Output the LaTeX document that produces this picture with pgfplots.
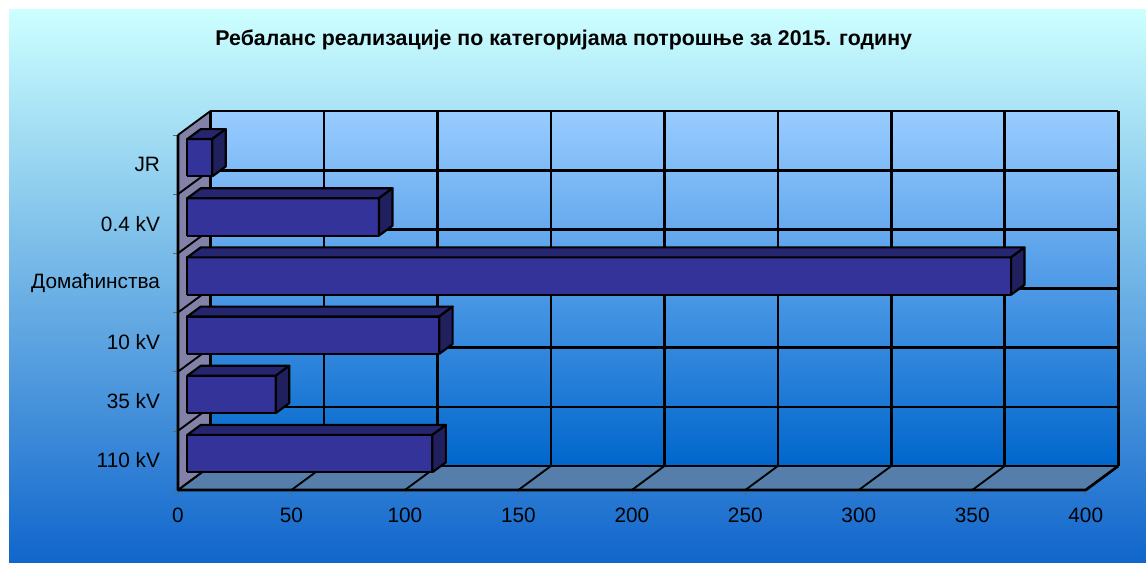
\documentclass[border=0pt]{standalone}
\usepackage{pgfplots}
\pgfplotsset{compat=1.18}
\usepackage{pgfplotstable}
\usepackage{fontspec}
\setmainfont{Liberation Sans}
\definecolor{barfront}{HTML}{333399}
\definecolor{bartop}{HTML}{262670}
\definecolor{barside}{HTML}{20205E}
\definecolor{floorc}{HTML}{557EAB}
\definecolor{wallc}{HTML}{8282A8}
\definecolor{bgtop}{HTML}{CCFFFF}
\definecolor{bgbot}{HTML}{1166CC}
\definecolor{walltop}{HTML}{99CCFF}
\definecolor{wallbot}{HTML}{0066CC}

% category index (0 = bottom) and value
\pgfplotstableread{
i v
0 108
1 39
2 111
3 363
4 84.5
5 11
}\datatable

\begin{document}
\begin{tikzpicture}
\useasboundingbox (0,0) rectangle (859.5pt,421.5pt);
\shade[top color=bgtop, bottom color=bgbot] (6.75pt,0) rectangle (859.5pt,414pt);
\node[font=\bfseries\fontsize{16}{18}\selectfont, anchor=base] at (422.8pt,387.75pt) {Ребаланс реализације по категоријама потрошње за 2015. годину};
\begin{axis}[
  at={(133.5pt,54pt)}, anchor=south west,
  scale only axis, width=680.8pt, height=266.25pt,
  xmin=0, xmax=400, ymin=0, ymax=6,
  clip=false,
  axis line style={draw=none},
  xtick pos=left, ytick pos=left,
  xtick={0,50,...,400},
  ytick={0,1,...,6}, yticklabels={},
  extra y ticks={0.5,1.5,2.5,3.5,4.5,5.5},
  extra y tick labels={110 kV,35 kV,10 kV,Домаћинства,0.4 kV,JR},
  extra y tick style={major tick length=0pt},
  tick align=outside,
  major tick length=3.75pt,
  tick style={draw=black!60, line width=0.5pt},
  ticklabel style={font=\fontsize{15.6}{18}\selectfont},
  xticklabel style={yshift=-6pt},
  yticklabel style={xshift=-10pt},
  /pgf/number format/assume math mode=true,
]
% back wall
\shade[top color=walltop, bottom color=wallbot] (axis cs:14.32,0.4056) rectangle (axis cs:414.32,6.4056);
% side wall
\fill[wallc] (axis cs:0,0) -- (axis cs:0,6) -- (axis cs:14.32,6.4056) -- (axis cs:14.32,0.4056) -- cycle;
% floor
\fill[floorc] (axis cs:0,0) -- (axis cs:400,0) -- (axis cs:414.32,0.4056) -- (axis cs:14.32,0.4056) -- cycle;
% grid
\pgfplotsinvokeforeach{0,...,8}{
  \pgfmathsetmacro\gx{#1*50}
  \pgfmathsetmacro\gxb{#1*50+14.32}
  \edef\tmp{\noexpand\draw[line width=2pt] (axis cs:\gxb,0.4056) -- (axis cs:\gxb,6.4056);
    \noexpand\draw[line width=1.4pt] (axis cs:\gx,0) -- (axis cs:\gxb,0.4056);}
  \tmp
}
\pgfplotsinvokeforeach{0,...,6}{
  \pgfmathsetmacro\gy{#1+0.4056}
  \edef\tmp{\noexpand\draw[line width=2pt] (axis cs:14.32,\gy) -- (axis cs:414.32,\gy);
    \noexpand\draw[line width=1.4pt] (axis cs:0,#1) -- (axis cs:14.32,\gy);}
  \tmp
}
\draw[line width=2pt, line join=round] (axis cs:0,6) -- (axis cs:0,0) -- (axis cs:400,0) -- (axis cs:414.32,0.4056);
% bars
\pgfplotsinvokeforeach{0,...,5}{
  \pgfplotstablegetelem{#1}{v}\of\datatable
  \pgfmathsetmacro\xa{4.10}
  \pgfmathsetmacro\xb{\pgfplotsretval+4.10}
  \pgfmathsetmacro\ya{#1+0.5-0.316+0.116}
  \pgfmathsetmacro\yb{#1+0.5+0.316+0.116}
  \pgfmathsetmacro\xc{\xb+5.93}
  \pgfmathsetmacro\xd{\xa+5.93}
  \pgfmathsetmacro\yc{\yb+0.168}
  \pgfmathsetmacro\yd{\ya+0.168}
  \addplot[fill=barfront, draw=black, line width=1.6pt, line join=round] coordinates {(\xa,\ya) (\xb,\ya) (\xb,\yb) (\xa,\yb) (\xa,\ya)};
  \addplot[fill=bartop, draw=black, line width=1.6pt, line join=round] coordinates {(\xa,\yb) (\xb,\yb) (\xc,\yc) (\xd,\yc) (\xa,\yb)};
  \addplot[fill=barside, draw=black, line width=1.6pt, line join=round] coordinates {(\xb,\ya) (\xc,\yd) (\xc,\yc) (\xb,\yb) (\xb,\ya)};
}
\end{axis}
\end{tikzpicture}
\end{document}
